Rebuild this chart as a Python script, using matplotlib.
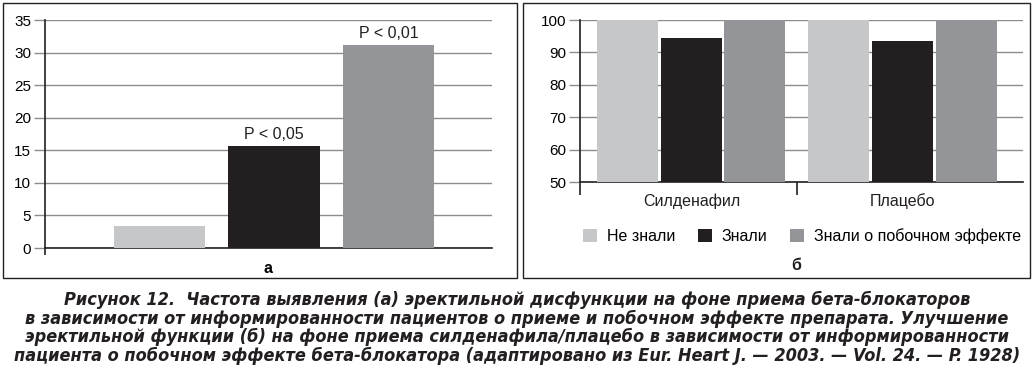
import matplotlib
matplotlib.use("Agg")
import matplotlib.pyplot as plt
import numpy as np
from matplotlib.patches import Rectangle

# panel a
a_values = [3.4, 15.6, 31.2]
a_labels = ["", "P < 0,05", "P < 0,01"]
a_yticks = [0, 5, 10, 15, 20, 25, 30, 35]

# panel b
groups = ["Силденафил", "Плацебо"]
series = ["Не знали", "Знали", "Знали о побочном эффекте"]
b_values = {
    "Не знали": [100, 100],
    "Знали": [94.3, 93.4],
    "Знали о побочном эффекте": [100, 100],
}
b_yticks = [50, 60, 70, 80, 90, 100]

colors = ["#c6c7c9", "#231f20", "#939598"]

caption = ("Рисунок 12.  Частота выявления (а) эректильной дисфункции на фоне приема бета-блокаторов\n"
           "в зависимости от информированности пациентов о приеме и побочном эффекте препарата. Улучшение\n"
           "эректильной функции (б) на фоне приема силденафила/плацебо в зависимости от информированности\n"
           "пациента о побочном эффекте бета-блокатора (адаптировано из Eur. Heart J. — 2003. — Vol. 24. — P. 1928)")

plt.rcParams["font.family"] = ["Liberation Sans", "DejaVu Sans"]

W, H = 1033, 375
fig = plt.figure(figsize=(W / 100, H / 100), dpi=100)


def px_axes(x0, y0, x1, y1):
    return fig.add_axes([x0 / W, 1 - y1 / H, (x1 - x0) / W, (y1 - y0) / H])


def style(ax):
    for s in ["top", "right"]:
        ax.spines[s].set_visible(False)
    ax.spines["left"].set_color("#231f20")
    ax.spines["bottom"].set_color("#231f20")
    ax.spines["left"].set_linewidth(1.2)
    ax.spines["bottom"].set_linewidth(1.2)
    ax.grid(axis="y", color="#8c8c8c", linewidth=1.0)
    ax.set_axisbelow(True)
    ax.tick_params(axis="y", length=8, width=1, color="#8c8c8c", labelsize=11, pad=2)
    ax.tick_params(axis="x", direction="out", width=1.2, color="#231f20")


# outer frames
for x0, x1 in [(3, 517), (523, 1030)]:
    fig.patches.append(Rectangle((x0 / W, 1 - 278 / H), (x1 - x0) / W, 275 / H,
                                 transform=fig.transFigure, fill=False,
                                 edgecolor="#231f20", linewidth=1.0))

# --- panel a
ax1 = px_axes(45, 20, 492, 248)
xa = np.arange(len(a_values))
ax1.bar(xa, a_values, width=0.795, color=colors, zorder=3)
for x, v, t in zip(xa, a_values, a_labels):
    if t:
        ax1.text(x, v + 0.6, t, ha="center", va="bottom", fontsize=11.5, color="#231f20")
ax1.set_xlim(-1, 2.904)
ax1.set_ylim(0, 35)
ax1.set_yticks(a_yticks)
ax1.set_xticks([-1])
ax1.set_xticklabels([""])
ax1.tick_params(axis="x", length=5)
style(ax1)
ax1.set_xlabel("а", fontsize=11.5, fontweight="bold", labelpad=1)

# --- panel b
ax2 = px_axes(580, 20, 1023, 182)
xb = np.arange(len(groups))
bw, step = 0.289, 0.301
for i, name in enumerate(series):
    ax2.bar(xb + (i - 1) * step, b_values[name], width=bw, color=colors[i],
            label=name, zorder=3)
ax2.set_xlim(-0.528, 1.571)
ax2.set_ylim(50, 100)
ax2.set_yticks(b_yticks)
ax2.set_xticks([-0.528, 0.5])
ax2.set_xticklabels(["", ""])
ax2.tick_params(axis="x", length=9)
style(ax2)
for x, g in zip(xb, groups):
    ax2.text(x, 44.2, g, ha="center", va="center", fontsize=11.5, color="#231f20")
ax2.legend(loc="center", bbox_to_anchor=((802 - 580) / 443, (182 - 236) / 162),
           ncol=3, frameon=False, fontsize=11.5, handlelength=0.9, handleheight=0.9,
           handletextpad=0.6, columnspacing=1.4, borderaxespad=0)
fig.text(796 / W, 1 - 266 / H, "б", ha="center", va="center", fontsize=11.5,
         fontweight="bold", color="#231f20")

# caption
fig.text(517 / W, 1 - 328 / H, caption, ha="center", va="center", fontsize=13.0,
         fontweight="bold", fontstyle="italic", fontstretch="condensed",
         family="DejaVu Sans", linespacing=1.04, color="#231f20")

fig.savefig("out.png", dpi=100)
